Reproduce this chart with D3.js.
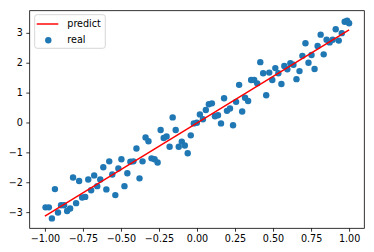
<!DOCTYPE html>
<html>
<head>
<meta charset="utf-8">
<script src="https://cdn.jsdelivr.net/npm/d3@7"></script>
<style>
  body { margin: 0; background: #fff; }
  text { font-family: "DejaVu Sans", sans-serif; }
</style>
</head>
<body>
<div class="main"></div>
<script>
// real points
const realX = [-0.996,-0.974,-0.954,-0.934,-0.914,-0.894,-0.874,-0.854,-0.834,-0.815,
  -0.795,-0.775,-0.755,-0.735,-0.715,-0.696,-0.676,-0.656,-0.636,-0.616,
  -0.596,-0.577,-0.557,-0.537,-0.517,-0.497,-0.477,-0.458,-0.438,-0.418,
  -0.398,-0.378,-0.358,-0.338,-0.319,-0.299,-0.279,-0.259,-0.239,-0.219,
  -0.200,-0.180,-0.160,-0.140,-0.120,-0.100,-0.080,-0.061,-0.041,-0.021,
  -0.001,0.019,0.039,0.058,0.078,0.098,0.118,0.138,0.158,0.178,
  0.197,0.217,0.237,0.257,0.277,0.297,0.316,0.336,0.356,0.376,
  0.396,0.416,0.435,0.455,0.475,0.495,0.515,0.535,0.555,0.574,
  0.594,0.614,0.634,0.654,0.674,0.693,0.713,0.733,0.753,0.773,
  0.793,0.813,0.833,0.852,0.872,0.892,0.912,0.932,0.952,0.971,
  0.987,1.000]
const realY = [-2.84,-2.84,-3.21,-2.23,-3.01,-2.77,-2.77,-2.96,-2.88,-1.84,
  -2.70,-1.96,-2.51,-2.49,-1.91,-2.27,-1.77,-2.13,-1.91,-1.50,
  -2.24,-1.30,-1.74,-2.43,-1.54,-1.23,-2.13,-1.70,-1.31,-1.30,
  -0.87,-1.87,-1.30,-0.50,-0.63,-1.20,-1.23,-1.34,-0.25,-0.52,
  -0.47,-0.81,0.17,-0.25,-0.81,-0.64,-0.77,-1.03,-0.43,-0.03,
  -0.01,0.27,0.11,0.42,0.61,0.64,0.21,0.24,-0.03,0.81,
  0.39,0.47,-0.09,0.69,1.26,0.37,0.83,0.72,1.42,1.42,
  1.31,2.02,1.65,0.91,1.67,1.42,1.82,1.65,1.29,1.89,
  1.78,1.98,1.93,1.45,1.72,2.23,2.65,2.00,2.26,1.79,
  2.56,2.94,2.28,2.77,2.68,2.77,3.12,2.74,2.99,3.37,
  3.41,3.32]

// fitted line, end points
const predictX = [-1, 1]
const predictY = [-3.13, 3.10]

const xTicks = [-1, -0.75, -0.5, -0.25, 0, 0.25, 0.5, 0.75, 1]
const yTicks = [-3, -2, -1, 0, 1, 2, 3]

const width = 374
const height = 252
const margin = { left: 29.7, right: 9.7, top: 10.7, bottom: 23.7 }
const fontSize = 9.6
const dotR = 3.2

const real = realX.map((x, i) => ({ x: x, y: realY[i] }))
const predict = predictX.map((x, i) => ({ x: x, y: predictY[i] }))

// matplotlib-like 5% padding on the data range
const yMin = d3.min(realY), yMax = d3.max(realY)
const yPad = (yMax - yMin) * 0.05

const xScale = d3.scaleLinear()
  .domain([-1.1, 1.1])
  .range([margin.left, width - margin.right])
const yScale = d3.scaleLinear()
  .domain([yMin - yPad, yMax + yPad])
  .range([height - margin.bottom, margin.top])

const svg = d3.select('.main')
  .append('svg')
    .attr('width', width)
    .attr('height', height)

const minus = (s) => s.replace('-', '\u2212')

// x axis
const xAxis = svg.append('g')
  .attr('transform', `translate(0,${height - margin.bottom})`)
  .call(d3.axisBottom(xScale)
    .tickValues(xTicks)
    .tickFormat((d) => minus(d3.format('.2f')(d)))
    .tickSize(3.4)
    .tickPadding(3.4))
xAxis.select('.domain').remove()

// y axis
const yAxis = svg.append('g')
  .attr('transform', `translate(${margin.left},0)`)
  .call(d3.axisLeft(yScale)
    .tickValues(yTicks)
    .tickFormat((d) => minus(String(d)))
    .tickSize(3.4)
    .tickPadding(3.4))
yAxis.select('.domain').remove()

svg.selectAll('.tick line').attr('stroke', '#000').attr('stroke-width', 0.8)
svg.selectAll('.tick text')
  .attr('fill', '#000')
  .attr('font-size', fontSize)
  .attr('font-family', '"DejaVu Sans", sans-serif')

// scatter
svg.append('g')
  .selectAll('circle')
  .data(real)
  .join('circle')
    .attr('cx', (d) => xScale(d.x))
    .attr('cy', (d) => yScale(d.y))
    .attr('r', dotR)
    .attr('fill', '#1f77b4')

// predict line
const line = d3.line()
  .x((d) => xScale(d.x))
  .y((d) => yScale(d.y))
svg.append('path')
  .datum(predict)
  .attr('d', line)
  .attr('fill', 'none')
  .attr('stroke', '#ff0000')
  .attr('stroke-width', 1.45)

// frame
svg.append('rect')
  .attr('x', margin.left)
  .attr('y', margin.top)
  .attr('width', width - margin.left - margin.right)
  .attr('height', height - margin.top - margin.bottom)
  .attr('fill', 'none')
  .attr('stroke', '#000')
  .attr('stroke-width', 0.8)

// legend
const legend = svg.append('g')
  .attr('transform', `translate(${margin.left + 5}, ${margin.top + 4})`)
legend.append('rect')
  .attr('width', 70.6)
  .attr('height', 33.6)
  .attr('rx', 2.5)
  .attr('fill', 'rgba(255,255,255,0.8)')
  .attr('stroke', '#cccccc')
  .attr('stroke-width', 0.8)
legend.append('line')
  .attr('x1', 2).attr('x2', 23.6)
  .attr('y1', 9.3).attr('y2', 9.3)
  .attr('stroke', '#ff0000')
  .attr('stroke-width', 1.45)
legend.append('circle')
  .attr('cx', 13.6).attr('cy', 25.6)
  .attr('r', dotR)
  .attr('fill', '#1f77b4')
legend.selectAll('text.lab')
  .data(['predict', 'real'])
  .join('text')
    .attr('class', 'lab')
    .text((d) => d)
    .attr('x', 32.6)
    .attr('y', (_, i) => 9.3 + i * 15.4)
    .attr('dy', '0.35em')
    .attr('font-size', fontSize)
    .attr('fill', '#000')
</script>
</body>
</html>
